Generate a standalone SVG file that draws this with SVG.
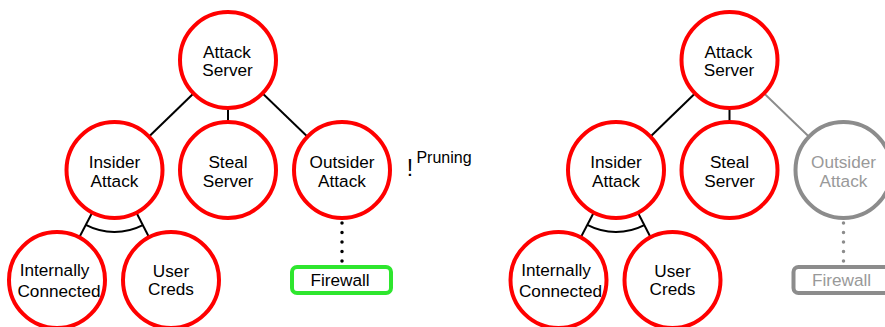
<svg xmlns="http://www.w3.org/2000/svg" width="885" height="327" viewBox="0 0 885 327">
<style>
.n{fill:#fff;stroke:#f00;stroke-width:4}
.g{fill:#fff;stroke:#8c8c8c;stroke-width:4}
.fw{fill:#fff;stroke:#2ee62e;stroke-width:4}
.t{font-family:"Liberation Sans",Arial,sans-serif;font-size:17.2px;fill:#000;text-anchor:middle}
.tg{fill:#999}
.e{stroke:#000;stroke-width:2;fill:none}
.eg{stroke:#8c8c8c;stroke-width:2;fill:none}
.d{stroke:#000;stroke-width:3.5;stroke-linecap:round;stroke-dasharray:0 9.5;fill:none}
.dg{stroke:#8c8c8c;stroke-width:3.5;stroke-linecap:round;stroke-dasharray:0 9.5;fill:none}
</style>
<rect width="885" height="327" fill="#fff"/>
<g id="connectors">
<line class="e" x1="228" y1="60" x2="114.5" y2="170"/>
<line class="e" x1="228" y1="60" x2="228" y2="170"/>
<line class="e" x1="228" y1="60" x2="342" y2="170"/>
<line class="e" x1="114.5" y1="170" x2="57" y2="280"/>
<line class="e" x1="114.5" y1="170" x2="171" y2="280"/>
<path class="e" d="M85.8 224.9 A62 62 0 0 0 142.8 225.1"/>
<line class="d" x1="342" y1="223" x2="342" y2="262"/>
<line class="e" x1="729.5" y1="60" x2="616" y2="170"/>
<line class="e" x1="729.5" y1="60" x2="729.5" y2="170"/>
<line class="eg" x1="729.5" y1="60" x2="843.5" y2="170"/>
<line class="e" x1="616" y1="170" x2="558.5" y2="280"/>
<line class="e" x1="616" y1="170" x2="672.5" y2="280"/>
<path class="e" d="M587.3 224.9 A62 62 0 0 0 644.3 225.1"/>
<line class="dg" x1="843.5" y1="223" x2="843.5" y2="262"/>
</g>
<g id="l-attack-server"><circle class="n" cx="228" cy="60" r="48"/><text class="t" x="227" y="58">Attack</text><text class="t" x="227.5" y="76">Server</text></g>
<g id="l-insider-attack"><circle class="n" cx="114.5" cy="170" r="48"/><text class="t" x="114.5" y="168">Insider</text><text class="t" x="114.5" y="187">Attack</text></g>
<g id="l-steal-server"><circle class="n" cx="228" cy="170" r="48"/><text class="t" x="228" y="168">Steal</text><text class="t" x="228" y="187">Server</text></g>
<g id="l-outsider-attack"><circle class="n" cx="342" cy="170" r="48"/><text class="t" x="342" y="168">Outsider</text><text class="t" x="342" y="187">Attack</text></g>
<g id="l-internally-connected"><circle class="n" cx="57" cy="280" r="48"/><text class="t" x="54.5" y="276">Internally</text><text class="t" x="59" y="297">Connected</text></g>
<g id="l-user-creds"><circle class="n" cx="171" cy="280" r="48"/><text class="t" x="171" y="277">User</text><text class="t" x="171" y="295">Creds</text></g>
<g id="l-firewall"><rect class="fw" x="292" y="267" width="99" height="26" rx="5"/><text class="t" x="340" y="286">Firewall</text></g>
<g id="pruning"><text class="t" x="410" y="176" style="font-size:23px">!</text><text class="t" x="444" y="163" style="font-size:16px">Pruning</text></g>
<g id="r-attack-server"><circle class="n" cx="729.5" cy="60" r="48"/><text class="t" x="728.5" y="58">Attack</text><text class="t" x="729" y="76">Server</text></g>
<g id="r-insider-attack"><circle class="n" cx="616" cy="170" r="48"/><text class="t" x="616" y="168">Insider</text><text class="t" x="616" y="187">Attack</text></g>
<g id="r-steal-server"><circle class="n" cx="729.5" cy="170" r="48"/><text class="t" x="729.5" y="168">Steal</text><text class="t" x="729.5" y="187">Server</text></g>
<g id="r-outsider-attack"><circle class="g" cx="843.5" cy="170" r="48"/><text class="t tg" x="843.5" y="168">Outsider</text><text class="t tg" x="843.5" y="187">Attack</text></g>
<g id="r-internally-connected"><circle class="n" cx="558.5" cy="280" r="48"/><text class="t" x="556" y="276">Internally</text><text class="t" x="560.5" y="297">Connected</text></g>
<g id="r-user-creds"><circle class="n" cx="672.5" cy="280" r="48"/><text class="t" x="672.5" y="277">User</text><text class="t" x="672.5" y="295">Creds</text></g>
<g id="r-firewall"><rect class="g" x="793.5" y="267" width="99" height="26" rx="5"/><text class="t tg" x="841.5" y="286">Firewall</text></g>
</svg>
